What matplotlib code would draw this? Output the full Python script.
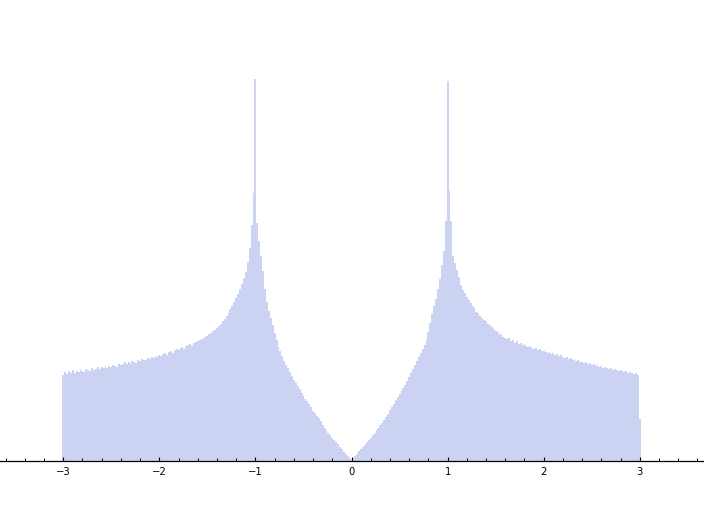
import numpy as np
import matplotlib
matplotlib.use("Agg")
import matplotlib.pyplot as plt

# Histogram bin heights (bins of width 0.02 centred on -3.00 ... 3.00)
left_counts = [
    86, 89, 87, 90, 88, 91, 88, 90, 89, 92,
    90, 89, 92, 91, 90, 93, 91, 92, 94, 92,
    94, 93, 95, 93, 95, 94, 96, 95, 94, 97,
    96, 97, 99, 97, 99, 97, 100, 99, 98, 101,
    100, 102, 101, 101, 103, 102, 104, 103, 105, 104,
    106, 105, 107, 108, 106, 109, 110, 108, 111, 112,
    111, 113, 114, 112, 115, 116, 117, 115, 118, 119,
    120, 121, 122, 122, 124, 125, 127, 128, 130, 131,
    133, 135, 137, 140, 142, 145, 148, 152, 155, 159,
    163, 167, 172, 177, 183, 189, 199, 213, 236, 268,
    382, 238, 220, 205, 190, 172, 159, 150, 143, 136,
    128, 121, 114, 110, 105, 100, 96, 93, 89, 85,
    81, 78, 75, 72, 68, 65, 62, 60, 57, 54,
    50, 48, 45, 43, 40, 36, 33, 31, 28, 26,
    23, 21, 19, 17, 14, 12, 9, 7, 5, 3,
]
center_count = [1]
right_counts = [
    3, 5, 7, 10, 12, 14, 16, 19, 21, 23,
    26, 28, 31, 33, 36, 38, 41, 44, 47, 51,
    54, 57, 61, 64, 67, 70, 73, 76, 80, 84,
    88, 92, 96, 100, 104, 108, 112, 116, 122, 129,
    138, 147, 155, 162, 172, 182, 196, 210, 240, 380,
    270, 240, 205, 198, 191, 184, 176, 171, 168, 164,
    161, 158, 155, 153, 149, 148, 145, 143, 141, 140,
    137, 136, 134, 132, 130, 129, 126, 127, 124, 123,
    122, 123, 120, 121, 118, 120, 117, 118, 116, 117,
    115, 114, 115, 113, 112, 113, 111, 112, 110, 110,
    109, 108, 109, 107, 108, 106, 107, 105, 106, 104,
    103, 104, 102, 103, 101, 102, 100, 101, 99, 99,
    98, 99, 97, 98, 96, 97, 95, 96, 94, 95,
    93, 94, 93, 92, 93, 91, 92, 91, 90, 91,
    90, 89, 90, 88, 89, 88, 87, 88, 86, 42,
]
major_ticks = [-3, -2, -1, 0, 1, 2, 3]
tick_labels = ["\u22123", "\u22122", "\u22121", "0", "1", "2", "3"]

counts = np.array(left_counts + center_count + right_counts, dtype=float)
edges = np.linspace(-3.01, 3.01, len(counts) + 1)

fig = plt.figure(figsize=(7.04, 5.12), dpi=100)
ax = fig.add_axes([0, 51 / 512, 1, 461 / 512])

ax.stairs(counts, edges, fill=True, color=(0.798, 0.824, 0.949), linewidth=0)

ax.set_xlim(-3.658, 3.668)
ax.set_ylim(0, 461)

for s in ["left", "right", "top"]:
    ax.spines[s].set_visible(False)
ax.spines["bottom"].set_linewidth(0.9)
ax.yaxis.set_visible(False)

ax.set_xticks(major_ticks)
ax.set_xticklabels(tick_labels)
ax.set_xticks(np.arange(-3.6, 3.61, 0.2), minor=True)
ax.tick_params(axis="x", which="major", direction="in", length=3.2, width=0.8,
               labelsize=7.2, pad=4)
ax.tick_params(axis="x", which="minor", direction="in", length=2.0, width=0.7)

fig.savefig("out.png", dpi=100)
